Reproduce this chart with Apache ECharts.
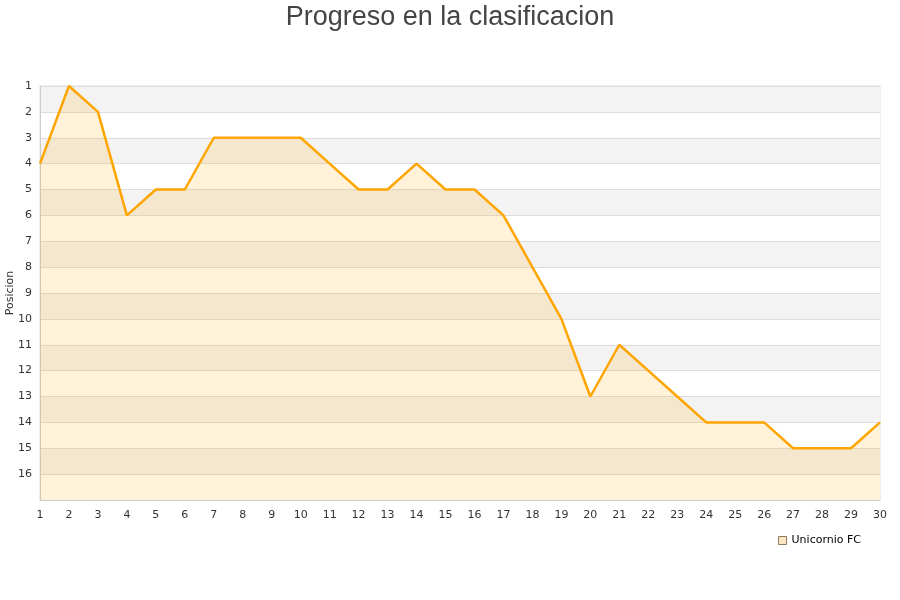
<!DOCTYPE html>
<html><head><meta charset="utf-8">
<script src="https://cdn.jsdelivr.net/npm/echarts@6/dist/echarts.min.js"></script>
<style>html,body{margin:0;padding:0;background:#fff}#c{width:900px;height:600px}</style>
</head><body><div id="c"></div>
<script>
const jornadas = [1,2,3,4,5,6,7,8,9,10,11,12,13,14,15,16,17,18,19,20,21,22,23,24,25,26,27,28,29,30];
const posiciones = [4,1,2,6,5,5,3,3,3,3,4,5,5,4,5,5,6,8,10,13,11,12,13,14,14,14,15,15,15,14];
const seriesName = 'Unicornio FC';
const titleText = 'Progreso en la clasificacion';
const yName = 'Posicion';

const chart = echarts.init(document.getElementById('c'));
chart.setOption({
  animation: false,
  title: {text: titleText, left: 'center', top: -1,
    textStyle: {fontFamily: 'Liberation Sans', fontSize: 27, fontWeight: 'normal', color: '#444'}},
  legend: {right: 34, top: 530, icon: 'rect', itemWidth: 8, itemHeight: 8, itemGap: 7,
    textStyle: {fontFamily: 'DejaVu Sans', fontSize: 11, color: '#000'},
    data: [{name: seriesName, itemStyle: {color: '#fbe5c3', borderColor: '#8a7a60', borderWidth: 1}}]},
  grid: {left: 40, right: 20, top: 86, bottom: 100, show: true, borderColor: '#ddd', borderWidth: 1,
    containLabel: false, outerBoundsMode: 'none'},
  xAxis: {type: 'value', min: 1, max: 30, interval: 1,
    axisLine: {show: true, lineStyle: {color: '#ccc'}}, axisTick: {show: false},
    splitLine: {show: false},
    axisLabel: {fontFamily: 'DejaVu Sans', fontSize: 11, color: '#333', margin: 10}},
  yAxis: {type: 'value', inverse: true, min: 1, max: 17, interval: 1,
    name: yName, nameLocation: 'middle', nameGap: 30, nameRotate: 90, nameMoveOverlap: false,
    nameTextStyle: {fontFamily: 'DejaVu Sans', fontSize: 11, color: '#333', verticalAlign: 'middle'},
    axisLine: {show: true, lineStyle: {color: '#ccc'}}, axisTick: {show: false},
    splitLine: {show: true, lineStyle: {color: '#ddd'}},
    splitArea: {show: true, areaStyle: {color: ['#f3f3f3', '#ffffff']}},
    axisLabel: {fontFamily: 'DejaVu Sans', fontSize: 11, color: '#333', margin: 8,
      formatter: v => v === 17 ? '' : String(v)}},
  series: [{
    name: seriesName, type: 'line',
    data: jornadas.map((j, i) => [j, posiciones[i]]),
    showSymbol: false, symbol: 'none',
    lineStyle: {color: '#ffa500', width: 2.5},
    itemStyle: {color: '#ffa500'},
    areaStyle: {color: 'rgba(255,170,0,0.22)', origin: 'end'}
  }]
});
</script></body></html>
